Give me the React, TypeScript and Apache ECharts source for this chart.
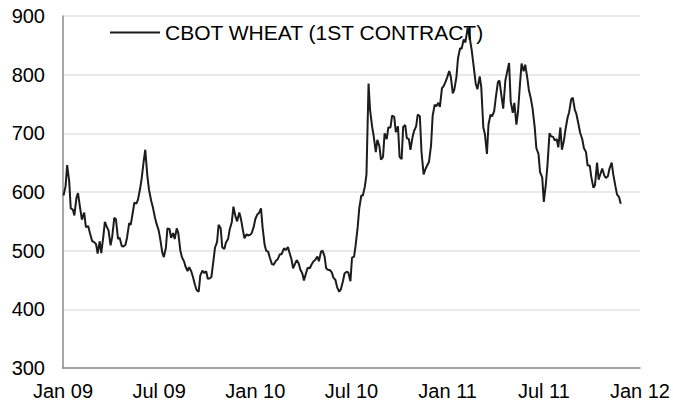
import React, { useEffect, useRef } from "react";
import * as echarts from "echarts";

const seriesName = "CBOT WHEAT (1ST CONTRACT)";
const startDateUTC = Date.UTC(2009, 0, 2); // first observation, twice-weekly thereafter
const xTickLabels = ["Jan 09", "Jul 09", "Jan 10", "Jul 10", "Jan 11", "Jul 11", "Jan 12"];
const yMin = 300;
const yMax = 900;
const yStep = 100;

// CBOT wheat, US cents/bushel (twice-weekly samples)
const wheat = [
  594, 610, 646, 618, 572, 570, 560, 590, 598, 572,
  553, 565, 540, 542, 530, 516, 515, 511, 495, 516,
  496, 524, 549, 540, 535, 509, 523, 556, 554, 520,
  522, 508, 507, 510, 523, 547, 544, 565, 582, 580,
  587, 605, 622, 652, 672, 626, 604, 585, 575, 557,
  546, 535, 520, 497, 489, 505, 538, 537, 522, 530,
  520, 538, 530, 500, 489, 482, 473, 465, 472, 465,
  456, 442, 433, 430, 458, 466, 462, 465, 452, 453,
  455, 483, 505, 515, 544, 538, 506, 503, 514, 520,
  536, 549, 575, 558, 550, 565, 555, 535, 521, 528,
  526, 527, 530, 541, 554, 562, 564, 572, 540, 510,
  500, 498, 488, 477, 476, 483, 485, 494, 494, 504,
  501, 506, 497, 485, 470, 478, 484, 478, 468, 461,
  449, 462, 471, 470, 476, 482, 484, 490, 482, 498,
  500, 490, 470, 467, 467, 463, 454, 450, 438, 430,
  434, 448, 461, 464, 463, 448, 488, 490, 509, 540,
  572, 594, 594, 610, 630, 785, 739, 711, 695, 668,
  689, 678, 655, 660, 700, 690, 710, 710, 730, 728,
  702, 712, 660, 656, 711, 714, 692, 690, 672, 693,
  704, 712, 732, 729, 669, 630, 638, 646, 651, 680,
  730, 749, 746, 752, 745, 777, 780, 788, 795, 806,
  797, 768, 775, 796, 828, 845, 844, 860, 855, 880,
  866, 842, 818, 785, 775, 797, 779, 710, 699, 665,
  715, 732, 729, 738, 760, 787, 790, 762, 742, 790,
  803, 820, 754, 735, 752, 715, 736, 785, 819, 806,
  817, 795, 774, 758, 742, 710, 675, 665, 634, 625,
  583, 614, 645, 700, 695, 694, 688, 690, 676, 710,
  672, 688, 707, 727, 736, 758, 761, 740, 733, 715,
  701, 690, 675, 668, 645, 645, 625, 607, 612, 650,
  621, 632, 640, 628, 624, 627, 640, 650, 630, 610,
  596, 591, 580,
];

const DAY = 86400000;

function monthPos(t: number): number {
  const d = new Date(t);
  const y = d.getUTCFullYear();
  const m = d.getUTCMonth();
  const dim = new Date(Date.UTC(y, m + 1, 0)).getUTCDate();
  return (y - 2009) * 12 + m + (d.getUTCDate() - 1) / dim;
}

export default function App() {
  const ref = useRef<HTMLDivElement>(null);

  useEffect(() => {
    if (!ref.current) return;
    const chart = echarts.init(ref.current, undefined, { renderer: "svg" });
    const data = wheat.map((v, i) => {
      const t = startDateUTC + Math.floor((7 * i + 1) / 2) * DAY;
      return [monthPos(t), v];
    });
    const font = "'Liberation Sans', Arial, Helvetica, sans-serif";
    chart.setOption({
      animation: false,
      backgroundColor: "#ffffff",
      grid: { left: 63, right: 31, top: 16, bottom: 40 },
      legend: {
        left: 110,
        top: 22,
        padding: 0,
        icon: "rect",
        itemWidth: 50,
        itemHeight: 2,
        textStyle: { fontSize: 21, color: "#000", fontFamily: font },
        data: [seriesName],
      },
      xAxis: {
        type: "value",
        min: 0,
        max: 36,
        interval: 6,
        axisLine: { show: true, lineStyle: { color: "#8a8a8a", width: 1.5 } },
        axisTick: { show: false },
        splitLine: { show: false },
        axisLabel: {
          formatter: (v: number) => xTickLabels[Math.round(v / 6)] ?? "",
          color: "#000",
          fontSize: 20,
          fontFamily: font,
          margin: 13,
        },
      },
      yAxis: {
        type: "value",
        min: yMin,
        max: yMax,
        interval: yStep,
        axisLine: { show: true, lineStyle: { color: "#8a8a8a", width: 1.5 } },
        axisTick: { show: false },
        splitLine: { lineStyle: { color: "#e3e3e3", width: 1.5 } },
        axisLabel: { color: "#000", fontSize: 20, fontFamily: font, margin: 18 },
      },
      series: [
        {
          name: seriesName,
          type: "line",
          data,
          symbol: "none",
          lineStyle: { color: "#1c1c1c", width: 2 },
          itemStyle: { color: "#1c1c1c" },
        },
      ],
    });
    return () => chart.dispose();
  }, []);

  return (
    <div
      ref={ref}
      style={{ position: "fixed", left: 0, top: 0, width: 673, height: 408, background: "#fff" }}
    />
  );
}
